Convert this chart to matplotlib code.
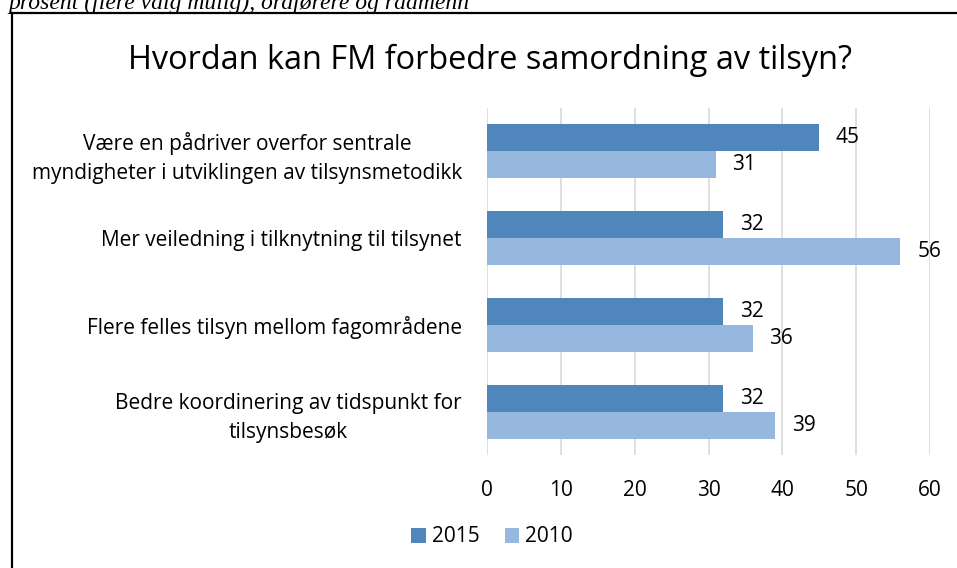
import numpy as np
import matplotlib.pyplot as plt
from matplotlib.lines import Line2D

# data
categories = ['Være en pådriver overfor sentrale\nmyndigheter i utviklingen av tilsynsmetodikk',
              'Mer veiledning i tilknytning til tilsynet',
              'Flere felles tilsyn mellom fagområdene',
              'Bedre koordinering av tidspunkt for\ntilsynsbesøk']
vals_2015 = [45, 32, 32, 32]
vals_2010 = [31, 56, 36, 39]
series_names = ['2015', '2010']
colors = ['#4F86BB', '#97B8DE']

plt.rcParams['font.family'] = ['Open Sans', 'DejaVu Sans']

fig = plt.figure(figsize=(9.57, 5.68), dpi=100)
W, H = 957, 568
ax = fig.add_axes([487 / W, 1 - 455 / H, (930 - 487) / W, (455 - 108) / H])

y = np.arange(len(categories))
h = 0.31
b1 = ax.barh(y - h / 2, vals_2015, height=h, color=colors[0], label=series_names[0])
b2 = ax.barh(y + h / 2, vals_2010, height=h, color=colors[1], label=series_names[1])
for bars in (b1, b2):
    for r in bars:
        ax.annotate(f'{r.get_width():g}', (r.get_width(), r.get_y() + r.get_height() / 2),
                    xytext=(12, 0), textcoords='offset points', va='center', ha='left',
                    fontsize=15)

ax.set_ylim(len(categories) - 0.5, -0.5)
ax.set_xlim(0, 60)
ax.set_xticks(range(0, 61, 10))
ax.set_yticks(y)
ax.set_yticklabels(categories, fontsize=15, multialignment='center', linespacing=1.5)
ax.tick_params(axis='both', length=0, labelsize=15)
ax.tick_params(axis='y', pad=18)
ax.tick_params(axis='x', pad=18)
ax.grid(axis='x', color='#d9d9d9', linewidth=1.2)
ax.set_axisbelow(True)
for s in ax.spines.values():
    s.set_visible(False)

fig.text(0.5 * (128 + 852) / W, 1 - 60 / H, 'Hvordan kan FM forbedre samordning av tilsyn?',
         ha='center', va='center', fontsize=23.4)

# caption above the chart box, cut off by the top edge as in the source
fig.text(8 / W, 1 - 9 / H, 'prosent (flere valg mulig), ordførere og rådmenn',
         family='Liberation Serif', style='italic', fontsize=17, ha='left', va='baseline')

# chart border
fig.add_artist(Line2D([12 / W, 1.0], [1 - 13 / H, 1 - 13 / H], transform=fig.transFigure,
                      color='black', linewidth=1.6))
fig.add_artist(Line2D([12 / W, 12 / W], [1 - 13 / H, 0], transform=fig.transFigure,
                      color='black', linewidth=1.6))

fig.legend(handles=[b1, b2], labels=series_names, loc='center', ncol=2,
           bbox_to_anchor=(492 / W, 1 - 537 / H), frameon=False, fontsize=15,
           handlelength=0.7, handleheight=0.7, columnspacing=1.2, handletextpad=0.3)

fig.savefig('out.png', dpi=100)
